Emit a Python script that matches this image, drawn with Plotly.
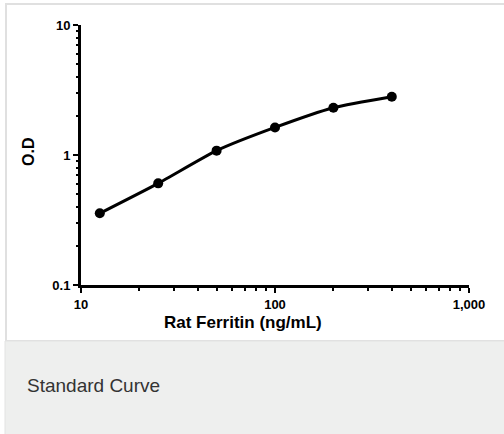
import plotly.graph_objects as go

# Data
conc = [12.5, 25, 50, 100, 200, 400]
od = [0.356, 0.605, 1.08, 1.63, 2.31, 2.81]

x_tickvals = [10, 100, 1000]
x_ticktext = ["10", "100", "1,000"]
y_tickvals = [0.1, 1, 10]
y_ticktext = ["0.1", "1", "10"]
x_minor = [20, 30, 40, 50, 60, 70, 80, 90, 200, 300, 400, 500, 600, 700, 800, 900]
y_minor = [0.2, 0.3, 0.4, 0.5, 0.6, 0.7, 0.8, 0.9, 2, 3, 4, 5, 6, 7, 8, 9]

W, H = 504, 434
FONT = "Liberation Sans, Arial, sans-serif"

fig = go.Figure()
fig.add_trace(go.Scatter(
    x=conc, y=od, mode="lines+markers",
    line=dict(color="black", width=3, shape="spline", smoothing=0.6),
    marker=dict(color="black", size=10),
    showlegend=False, hoverinfo="skip"
))

axis_common = dict(
    type="log", showgrid=False, zeroline=False, automargin=False,
    showline=True, linecolor="black", linewidth=3,
    ticks="outside", ticklen=5, tickwidth=2, tickcolor="black",
    tickmode="array",
    tickfont=dict(family=FONT, size=13, color="black"),
)

fig.update_layout(
    template="none",
    width=W, height=H, autosize=False,
    margin=dict(l=0, r=0, t=0, b=0, pad=0, autoexpand=False),
    paper_bgcolor="white", plot_bgcolor="white",
    xaxis=dict(axis_common, range=[1, 3], domain=[81 / W, 469 / W],
               tickvals=x_tickvals, ticktext=["<b>%s</b>" % t for t in x_ticktext],
               minor=dict(tickmode="array", tickvals=x_minor, ticks="outside",
                          ticklen=3, tickwidth=2, tickcolor="black")),
    yaxis=dict(axis_common, range=[-1, 1], domain=[1 - 285 / H, 1 - 25 / H],
               tickvals=y_tickvals, ticktext=["<b>%s</b>" % t for t in y_ticktext],
               minor=dict(tickmode="array", tickvals=y_minor, ticks="outside",
                          ticklen=2, tickwidth=1.5, tickcolor="black")),
    shapes=[
        dict(type="rect", xref="paper", yref="paper",
             x0=6 / W, x1=1.02, y0=1 - 341 / H, y1=1 - 4 / H,
             line=dict(color="#e0e0e0", width=2), fillcolor="rgba(0,0,0,0)", layer="below"),
        dict(type="rect", xref="paper", yref="paper",
             x0=5 / W, x1=1.02, y0=-0.02, y1=1 - 341 / H,
             line=dict(color="#e2e3e2", width=1), fillcolor="#eeefee", layer="below"),
    ],
    annotations=[
        dict(text="<b>Rat Ferritin (ng/mL)</b>", xref="paper", yref="paper",
             x=243 / W, y=1 - 322 / H, xanchor="center", yanchor="middle",
             showarrow=False, font=dict(family=FONT, size=17, color="black")),
        dict(text="<b>O.D</b>", xref="paper", yref="paper",
             x=28 / W, y=1 - 152 / H, xanchor="center", yanchor="middle",
             textangle=-90, showarrow=False,
             font=dict(family=FONT, size=16, color="black")),
        dict(text="Standard Curve", xref="paper", yref="paper",
             x=25 / W, y=1 - 385 / H, xanchor="left", yanchor="middle",
             showarrow=False, font=dict(family=FONT, size=19, color="#333333")),
    ],
)

fig.write_html(
    "out.html",
    config={"displayModeBar": False},
    post_script="document.body.style.margin='0';document.body.style.padding='0';"
                "document.documentElement.style.overflow='hidden';"
                "document.body.style.overflow='hidden';",
)
